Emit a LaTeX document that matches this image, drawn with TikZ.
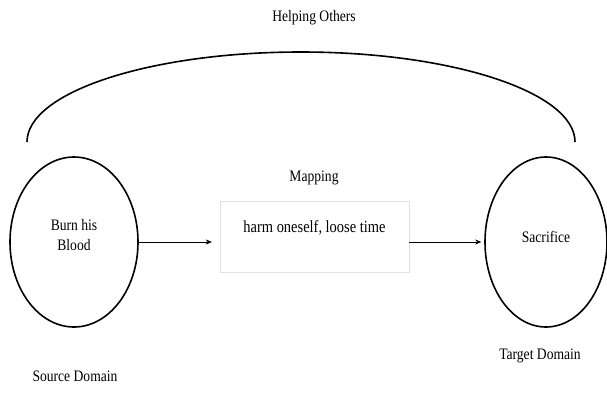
\documentclass[tikz,border=0pt]{standalone}
\usepackage{fontspec}
\setmainfont{Liberation Serif}[FakeStretch=0.85]
\usetikzlibrary{shapes.geometric, arrows.meta}
\tikzset{every node/.append style={font=\fontsize{16}{20}\selectfont}}
\tikzset{
  domainoval/.style={draw, ellipse, line width=1.6pt, minimum width=128pt, minimum height=170pt, inner sep=0pt, align=center},
  mapbox/.style={draw=black!12, minimum width=189pt, inner xsep=0pt, inner ysep=22pt, text height=9pt, text depth=18pt},
}

\begin{document}
\begin{tikzpicture}[x=1pt, y=-1pt, >={Stealth[length=6pt, width=5pt]}]
    \useasboundingbox (0,0) rectangle (607,397);
    % source and target
    \node[domainoval, text depth=14pt] (src) at (74,242) {Burn his\\Blood};
    \node[domainoval, minimum width=122pt, text depth=10pt] (tgt) at (546,242) {Sacrifice};
    \node (srclbl) at (75,376) {Source Domain};
    \node (tgtlbl) at (540,356) {Target Domain};
    % mapping in the middle
    \node[mapbox, anchor=north, font=\fontsize{17}{20}\selectfont] (map) at (314.5,201) {harm oneself, loose time};
    \node (maplbl) at (314,178) {Mapping};
    \draw[->, thin, shorten >=8pt] (src.east) -- (src.east -| map.west);
    \draw[->, thin, shorten >=3pt] (map.east |- tgt.west) -- (tgt.west);
    % arc over both
    \coordinate (arcl) at (27,142);
    \draw[line width=1.6pt] (arcl) arc[start angle=180, end angle=360, x radius=274, y radius=90];
    \node (toplbl) at (314,18) {Helping Others};
\end{tikzpicture}
\end{document}
